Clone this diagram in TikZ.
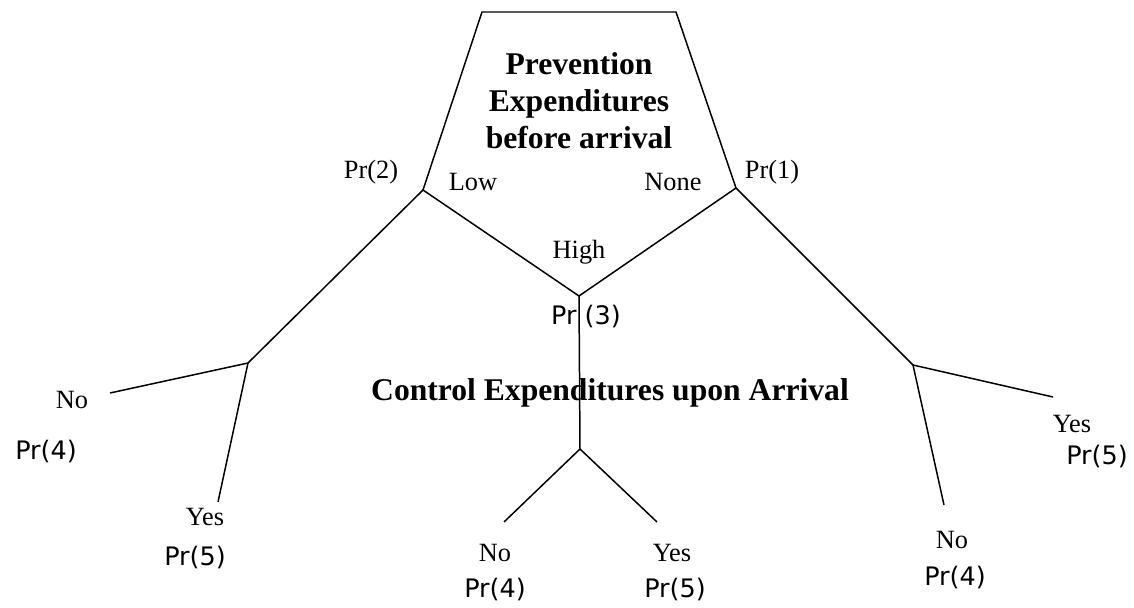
\documentclass[tikz,border=0pt]{standalone}
\usepackage{fontspec}
\setmainfont{Liberation Serif}
\setsansfont{DejaVu Sans}
\begin{document}
\begin{tikzpicture}[x=0.02cm,y=-0.02cm,
  branch/.style={line width=0.85pt,black},
  lab/.style={inner sep=0pt,font=\fontsize{15}{18}\selectfont},
  prob/.style={inner sep=0pt,font=\sffamily\fontsize{14.5}{17}\selectfont},
  title/.style={inner sep=0pt,align=center,font=\bfseries\fontsize{18}{21}\selectfont}]
\useasboundingbox (0,0) rectangle (1134,608);
% pentagon / decision points
\coordinate (tl) at (482,12);
\coordinate (tr) at (676,12);
\coordinate (L) at (423,190);
\coordinate (R) at (736,188);
\coordinate (B) at (579,296);
\draw[branch,line join=miter] (L) -- (tl) -- (tr) -- (R) -- (B) -- (L);
% chance nodes
\coordinate (cL) at (248,363);
\coordinate (cC) at (580,449);
\coordinate (cR) at (913,365);
\coordinate (eLno) at (110,393);
\coordinate (eLyes) at (218,502);
\coordinate (eCno) at (504,522);
\coordinate (eCyes) at (657,522);
\coordinate (eRyes) at (1053,397);
\coordinate (eRno) at (944,505);
\draw[branch] (L) -- (cL);
\draw[branch] (cL) -- (eLno);
\draw[branch] (cL) -- (eLyes);
\draw[branch] (R) -- (cR);
\draw[branch] (cR) -- (eRyes);
\draw[branch] (cR) -- (eRno);
% titles
\node[title] (t1) at (579,101) {Prevention\\Expenditures\\before arrival};
\node[title] (t2) at (610,393) {Control Expenditures upon Arrival};
\node[prob] (p3) at (586,317) {Pr (3)};
\draw[branch] (B) -- (cC);
\draw[branch] (cC) -- (eCno);
\draw[branch] (cC) -- (eCyes);
% top labels
\node[lab] (low) at (473,182) {Low};
\node[lab] (none) at (673,182) {None};
\node[lab] (high) at (579,252) {High};
\node[lab] (p2) at (371,172) {Pr(2)};
\node[lab] (p1) at (772,172) {Pr(1)};
% left outcomes
\node[lab] (nL) at (72,400) {No};
\node[prob] (p4L) at (46,452) {Pr(4)};
\node[lab] (yL) at (205,517) {Yes};
\node[prob] (p5L) at (195,558) {Pr(5)};
% centre outcomes
\node[lab] (nC) at (495,553) {No};
\node[prob] (p4C) at (495,590) {Pr(4)};
\node[lab] (yC) at (672,553) {Yes};
\node[prob] (p5C) at (675,590) {Pr(5)};
% right outcomes
\node[lab] (yR) at (1072,424) {Yes};
\node[prob] (p5R) at (1097,457) {Pr(5)};
\node[lab] (nR) at (952,540) {No};
\node[prob] (p4R) at (955,578) {Pr(4)};
\end{tikzpicture}
\end{document}
